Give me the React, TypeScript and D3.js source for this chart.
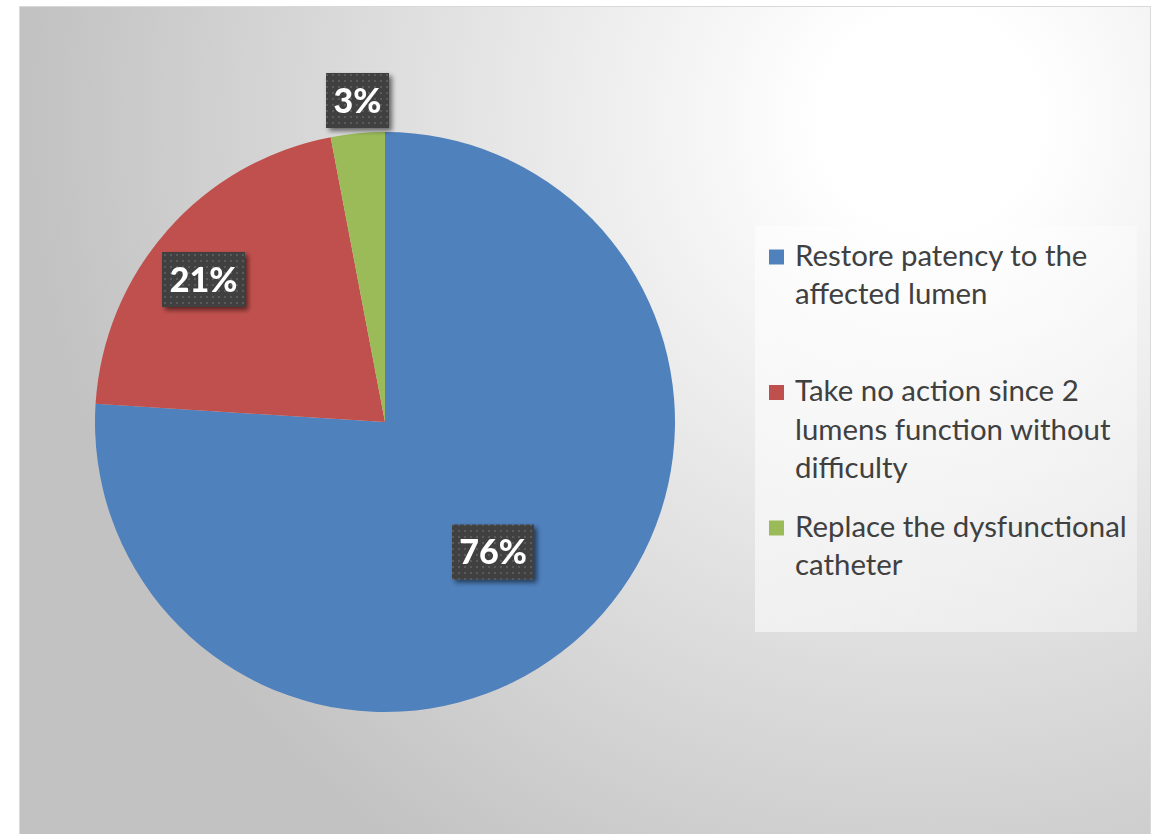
import React from "react";
import * as d3 from "d3";

const categories = [
  "Restore patency to the affected lumen",
  "Take no action since 2 lumens function without difficulty",
  "Replace the dysfunctional catheter",
];
const legendLines = [
  ["Restore patency to the", "affected lumen"],
  ["Take no action since 2", "lumens function without", "difficulty"],
  ["Replace the dysfunctional", "catheter"],
];
const values = [76, 21, 3];
const labels = ["76%", "21%", "3%"];
const colors = ["#4F81BD", "#C0504D", "#9BBB59"];

const W = 1160;
const H = 834;
const cx = 385;
const cy = 422;
const R = 290;

// label box centres as placed in the reference
const labelPos: [number, number][] = [
  [493, 552],
  [203.5, 279.5],
  [357.5, 100.5],
];
const labelBoxW = [82, 83, 63];
const boxH = 55;

export default function App() {
  const pie = d3
    .pie<number>()
    .sort(null)
    .startAngle(0)
    .endAngle(2 * Math.PI)
    .value((d) => d);
  const arcs = pie(values);
  const arc = d3.arc<d3.PieArcDatum<number>>().innerRadius(0).outerRadius(R);

  const legendX = 755;
  const legendY = 226;
  const legendW = 382;
  const legendH = 406;
  const itemY = d3.scaleLinear().domain([0, 1]).range([265.5, 401]);
  const lineH = 38.5;

  return (
    <svg
      width={W}
      height={H}
      style={{ position: "absolute", left: 0, top: 0, display: "block" }}
    >
      <defs>
        <radialGradient
          id="bg"
          gradientUnits="userSpaceOnUse"
          cx={930}
          cy={120}
          r={900}
        >
          <stop offset="0" stopColor="#ffffff" />
          <stop offset="0.12" stopColor="#ffffff" />
          <stop offset="1" stopColor="#c2c2c2" />
        </radialGradient>
        <linearGradient id="legbg" x1="0" y1="0" x2="1" y2="0">
          <stop offset="0" stopColor="#ffffff" stopOpacity={0.55} />
          <stop offset="1" stopColor="#ffffff" stopOpacity={0.35} />
        </linearGradient>
        <pattern
          id="dots"
          patternUnits="userSpaceOnUse"
          width={6}
          height={6}
        >
          <rect width={6} height={6} fill="#404040" />
          <rect x={2} y={2} width={2} height={2} fill="#5a5a5a" />
        </pattern>
        <filter id="shadow" x="-20%" y="-20%" width="150%" height="160%">
          <feGaussianBlur in="SourceAlpha" stdDeviation={2.5} />
          <feOffset dx={3} dy={3} result="b" />
          <feComponentTransfer>
            <feFuncA type="linear" slope={0.55} />
          </feComponentTransfer>
          <feMerge>
            <feMergeNode />
            <feMergeNode in="SourceGraphic" />
          </feMerge>
        </filter>
      </defs>

      <rect x={0} y={0} width={W} height={H} fill="#ffffff" />
      <rect
        x={19.5}
        y={6.5}
        width={1131}
        height={840}
        fill="url(#bg)"
        stroke="#d9d9d9"
        strokeWidth={1}
      />

      <g transform={`translate(${cx},${cy})`}>
        {arcs.map((a, i) => (
          <path key={categories[i]} d={arc(a) || ""} fill={colors[i]} />
        ))}
      </g>

      {labels.map((t, i) => {
        const [x, y] = labelPos[i];
        const w = labelBoxW[i];
        return (
          <g key={t} filter="url(#shadow)">
            <rect
              x={x - w / 2}
              y={y - boxH / 2}
              width={w}
              height={boxH}
              fill="url(#dots)"
            />
            <text
              x={x}
              y={y + 12}
              textAnchor="middle"
              fill="#ffffff"
              fontFamily="Lato, 'Open Sans', sans-serif"
              fontWeight={900}
              fontSize={34}
            >
              {t}
            </text>
          </g>
        );
      })}

      <rect
        x={legendX}
        y={legendY}
        width={legendW}
        height={legendH}
        fill="url(#legbg)"
      />
      {legendLines.map((lines, i) => {
        const by = itemY(i);
        return (
          <g key={categories[i]}>
            <rect x={769} y={by - 16} width={15} height={15} fill={colors[i]} />
            <text
              fill="#404040"
              fontFamily="Lato, 'Open Sans', sans-serif"
              fontSize={29.4}
            >
              {lines.map((l, j) => (
                <tspan key={j} x={795} y={by + j * lineH}>
                  {l}
                </tspan>
              ))}
            </text>
          </g>
        );
      })}
    </svg>
  );
}
